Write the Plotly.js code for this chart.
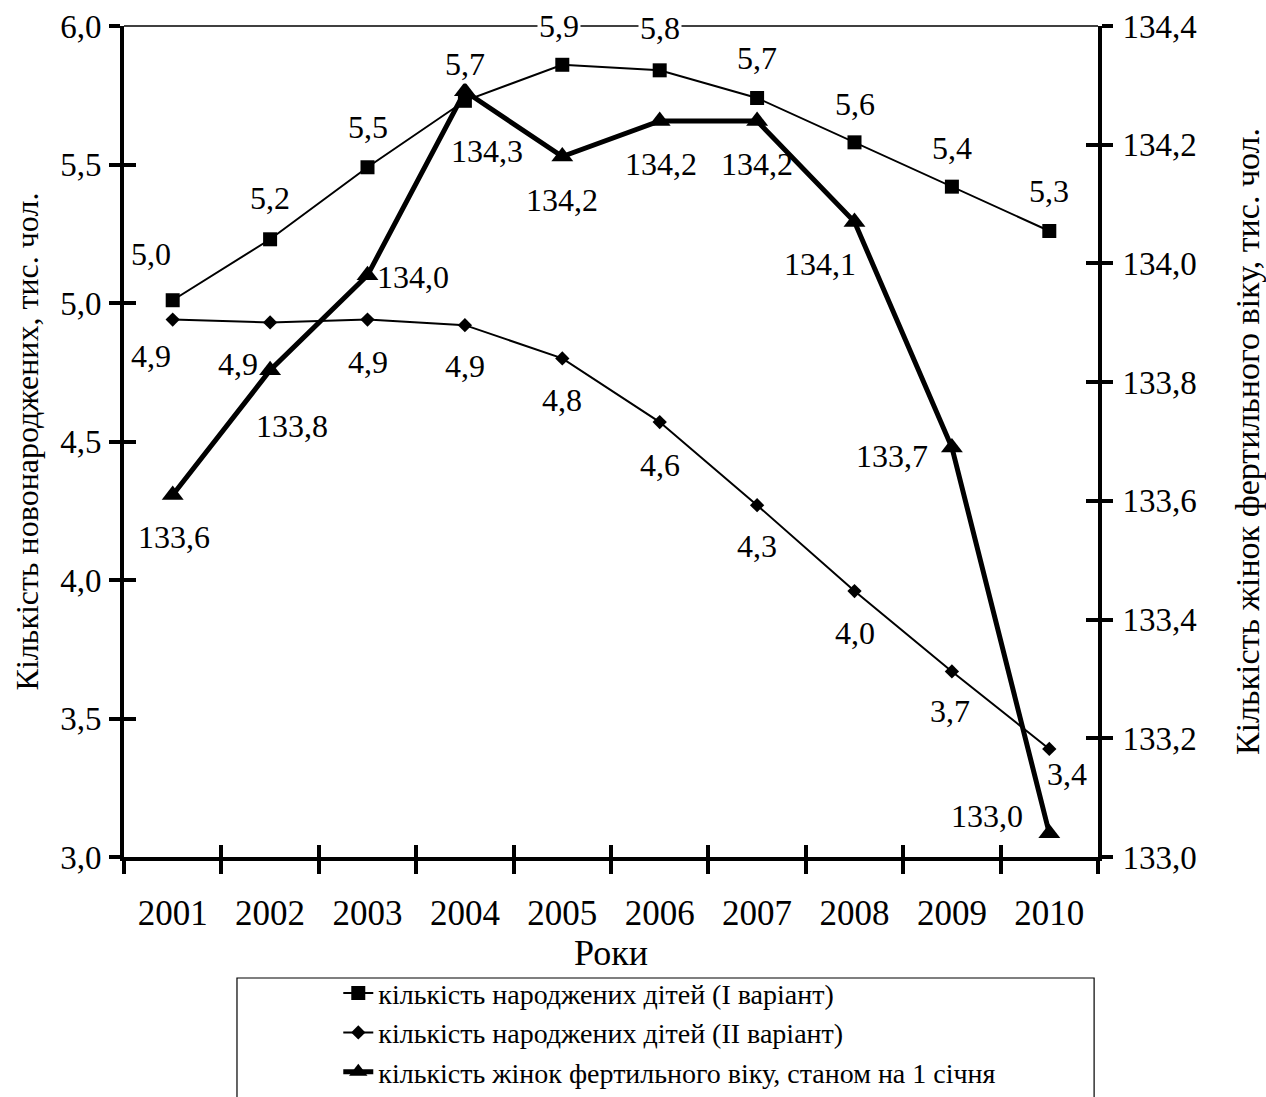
<!DOCTYPE html>
<html>
<head>
<meta charset="utf-8">
<script src="https://cdn.plot.ly/plotly-3.0.1.min.js"></script>
<style>html,body{margin:0;padding:0;background:#fff;}#chart{width:1266px;height:1097px;}</style>
</head>
<body>
<div id="chart"></div>
<script>
// ---- data ----
const years = ["2001","2002","2003","2004","2005","2006","2007","2008","2009","2010"];
const birthsV1 = [5.01, 5.23, 5.49, 5.73, 5.86, 5.84, 5.74, 5.58, 5.42, 5.26];
const birthsV2 = [4.94, 4.93, 4.94, 4.92, 4.80, 4.57, 4.27, 3.96, 3.67, 3.39];
const women   = [133.61, 133.82, 133.98, 134.29, 134.18, 134.24, 134.24, 134.07, 133.69, 133.04];

const nameV1 = "кількість народжених дітей (І варіант)";
const nameV2 = "кількість народжених дітей (ІІ варіант)";
const nameW  = "кількість жінок фертильного віку, станом на 1 січня";
const leftTitle = "Кількість новонароджених, тис. чол.";
const rightTitle = "Кількість жінок фертильного віку, тис. чол.";
const xTitle = "Роки";

// label offsets in px (styling only)
const offV1 = [[-22,-46],[0,-41],[0,-40],[0,-37],[-3,-39],[0,-42],[0,-40],[0,-38],[0,-39],[0,-40]];
const offV2 = [[-22,36],[-32,42],[0,42],[0,41],[0,42],[0,43],[0,41],[0,42],[-2,40],[18,25]];
const offW  = [[1,42],[22,56],[45,2],[22,60],[0,43],[1,43],[0,43],[-35,42],[-60,9],[-62,-17]];

const FONT = "Liberation Serif";
const fmt = v => v.toFixed(1).replace('.', ',');

const traces = [
  {x: years, y: birthsV1, name: nameV1, type: "scatter", mode: "lines+markers",
   line: {color: "#000", width: 2}, marker: {symbol: "square", size: 14, color: "#000"}},
  {x: years, y: birthsV2, name: nameV2, type: "scatter", mode: "lines+markers",
   line: {color: "#000", width: 2}, marker: {symbol: "diamond", size: 11, color: "#000"}},
  {x: years, y: women, name: nameW, type: "scatter", mode: "lines+markers", yaxis: "y2",
   line: {color: "#000", width: 5}, marker: {symbol: "triangle-up", size: 19, color: "#000"}},
  // empty helper traces so the inside-tick overlay axes get drawn
  {x: [], y: [], xaxis: "x2", yaxis: "y3", showlegend: false, hoverinfo: "skip"},
  {x: [], y: [], xaxis: "x2", yaxis: "y4", showlegend: false, hoverinfo: "skip"}
];

const annotations = [];
function addLabels(vals, offs, yref, bg) {
  vals.forEach((v, i) => {
    const a = {x: i, y: v, xref: "x", yref: yref, text: fmt(v), showarrow: false,
      xshift: offs[i][0], yshift: -offs[i][1], font: {family: FONT, size: 32, color: "#000"}};
    if (bg) { a.bgcolor = "#ffffff"; }
    annotations.push(a);
  });
}
addLabels(birthsV1, offV1, "y", true);
addLabels(birthsV2, offV2, "y", false);
addLabels(women, offW, "y2", false);

const tickFontY = {family: FONT, size: 33, color: "#000"};
const layout = {
  width: 1266, height: 1097,
  margin: {l: 124, r: 168, t: 26, b: 240, autoexpand: false},
  paper_bgcolor: "#fff", plot_bgcolor: "#fff",
  separators: ", ",
  font: {family: FONT, color: "#000"},
  showlegend: true,
  xaxis: {type: "category", range: [-0.5, 9.5], tickson: "boundaries", ticks: "outside",
    ticklen: 13, tickwidth: 4, tickcolor: "#000", showline: true, linewidth: 4, linecolor: "#000",
    showgrid: false, zeroline: false, ticklabelstandoff: 22, automargin: false,
    tickfont: {family: FONT, size: 35, color: "#000"},
    title: {text: xTitle, font: {family: FONT, size: 36, color: "#000"}, standoff: 0}},
  xaxis2: {overlaying: "x", anchor: "y", range: [-0.5, 9.5], tick0: -0.5, dtick: 1,
    ticks: "inside", ticklen: 12, tickwidth: 4, tickcolor: "#000", showticklabels: false,
    showline: false, showgrid: false, zeroline: false},
  yaxis: {range: [3, 6], dtick: 0.5, tickformat: ".1f", ticks: "outside", ticklen: 11,
    tickwidth: 4, tickcolor: "#000", showline: true, linewidth: 4, linecolor: "#000",
    showgrid: false, zeroline: false, tickfont: tickFontY, ticklabelstandoff: 1, automargin: false,
    title: {text: leftTitle, font: {family: FONT, size: 32, color: "#000"}, standoff: 13}},
  yaxis2: {overlaying: "y", side: "right", anchor: "x", range: [133, 134.4], dtick: 0.2, tickformat: ".1f",
    ticks: "outside", ticklen: 11, tickwidth: 4, tickcolor: "#000", showline: true, linewidth: 4,
    linecolor: "#000", showgrid: false, zeroline: false, tickfont: tickFontY, ticklabelstandoff: 3,
    automargin: false,
    title: {text: rightTitle, font: {family: FONT, size: 34, color: "#000"}, standoff: 49}},
  yaxis3: {overlaying: "y", side: "left", anchor: "x2", range: [3, 6], dtick: 0.5, ticks: "inside",
    ticklen: 12, tickwidth: 4, tickcolor: "#000", showticklabels: false, showline: false,
    showgrid: false, zeroline: false},
  yaxis4: {overlaying: "y", side: "right", anchor: "x2", range: [133, 134.4], dtick: 0.2, ticks: "inside",
    ticklen: 12, tickwidth: 4, tickcolor: "#000", showticklabels: false, showline: false,
    showgrid: false, zeroline: false},
  legend: {x: 0.22, xanchor: "left", y: -0.134, yanchor: "top",
    bgcolor: "rgba(0,0,0,0)", borderwidth: 0, font: {family: FONT, size: 28, color: "#000"}, tracegroupgap: 0},
  shapes: [
    {type: "line", xref: "paper", yref: "paper", x0: 0, x1: 1, y0: 1, y1: 1,
     line: {color: "#000", width: 1.5}, layer: "below"},
    {type: "rect", xref: "paper", yref: "paper", x0: 0.116, x1: 0.996, y0: -0.1456, y1: -0.4,
     line: {color: "#000", width: 1.2}}
  ],
  annotations: annotations
};

Plotly.newPlot("chart", traces, layout, {staticPlot: true, displayModeBar: false});
</script>
</body>
</html>
